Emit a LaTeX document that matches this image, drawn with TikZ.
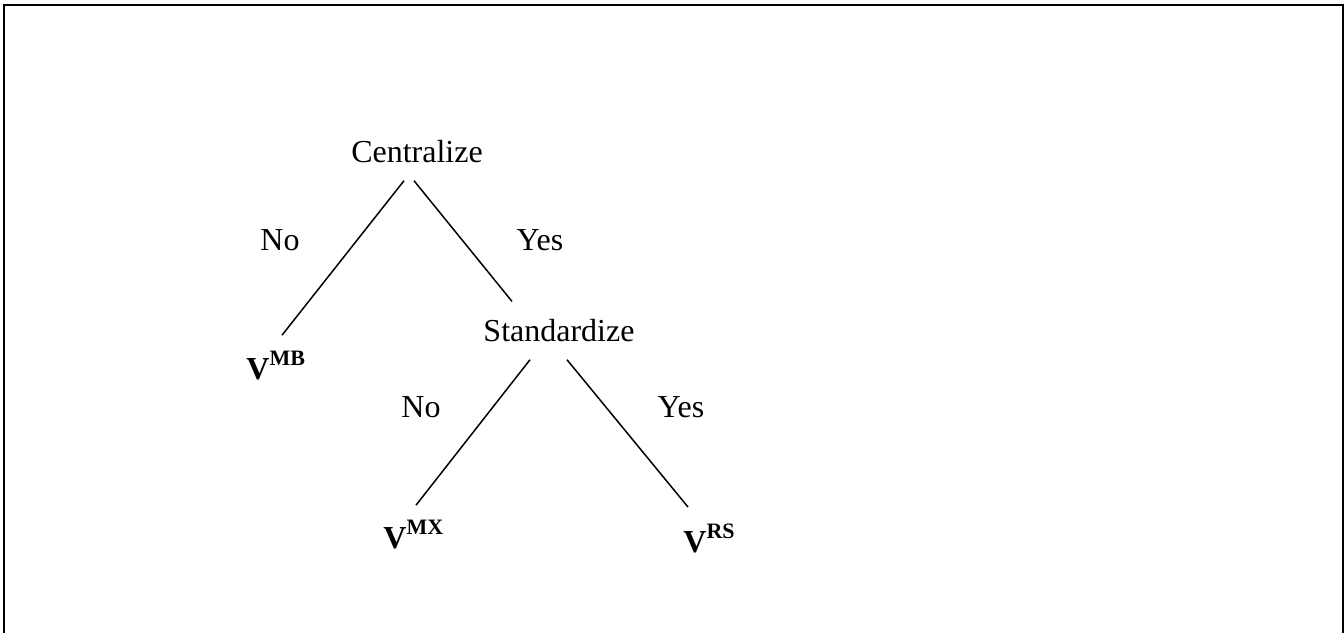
\documentclass[tikz,border=0pt]{standalone}
\usepackage{fontspec}
\setmainfont{Liberation Serif}
\newcommand\vsup[1]{\textbf{V}\raisebox{7pt}{\fontsize{11}{13}\selectfont\textbf{#1}}}
\begin{document}
\begin{tikzpicture}[x=0.5pt, y=-0.5pt]
        \tikzset{
            txt/.style={inner sep=0pt, font=\fontsize{16}{19}\selectfont},
            leaf/.style={txt, anchor=base west},
            edge/.style={line width=0.75pt, black}
        }
        \useasboundingbox (0,0) rectangle (1344,633);
        \draw[line width=1pt] (3.5,633) -- (3.5,4.5) -- (1343,4.5) -- (1343,633);

        \node[txt,anchor=base] (cen) at (417,162) {Centralize};
        \node[txt,anchor=base] (std) at (559,341) {Standardize};
        \node[leaf] (mb) at (246,379) {\vsup{MB}};
        \node[leaf] (mx) at (383,548) {\vsup{MX}};
        \node[leaf] (rs) at (683,552) {\vsup{RS}};

        \node[txt,anchor=base] (no1)  at (280,250) {No};
        \node[txt,anchor=base] (yes1) at (540,250) {Yes};
        \node[txt,anchor=base] (no2)  at (421,417) {No};
        \node[txt,anchor=base] (yes2) at (681,417) {Yes};

        \draw[edge] (cen.south) ++(-13,18) -- ([shift={(36,-15)}]mb.north west);
        \draw[edge] (cen.south) ++(-3,18) -- ([shift={(-47,-17)}]std.north);
        \draw[edge] (std.south) ++(-29,18) -- ([shift={(33,-14)}]mx.north west);
        \draw[edge] (std.south) ++(8,18) -- ([shift={(5,-16)}]rs.north west);
        \end{tikzpicture}
\end{document}
